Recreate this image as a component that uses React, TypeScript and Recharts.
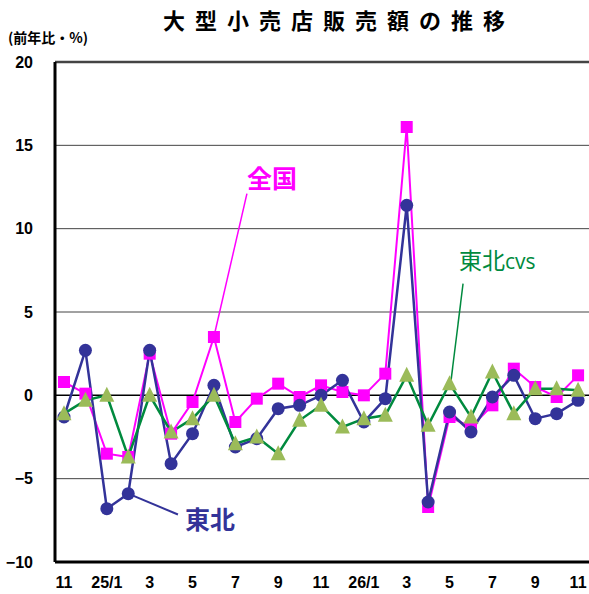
import React from "react";
import { LineChart, Line, XAxis, YAxis, CartesianGrid, ReferenceLine } from "recharts";

const months = ["11","12","25/1","2","3","4","5","6","7","8","9","10","11","12","26/1","2","3","4","5","6","7","8","9","10","11"];
const zenkoku = [0.8,0.1,-3.5,-3.7,2.5,-2.3,-0.4,3.5,-1.6,-0.2,0.7,-0.1,0.6,0.2,0.0,1.3,16.1,-6.7,-1.3,-1.9,-0.6,1.6,0.5,-0.1,1.2];
const tohoku = [-1.3,2.7,-6.8,-5.9,2.7,-4.1,-2.3,0.6,-3.1,-2.6,-0.8,-0.6,0.0,0.9,-1.6,-0.2,11.4,-6.4,-1.0,-2.2,-0.1,1.2,-1.4,-1.1,-0.3];
const tohokuCvs = [-1.1,-0.3,0.0,-3.7,0.0,-2.2,-1.4,0.0,-2.9,-2.5,-3.5,-1.5,-0.6,-1.9,-1.4,-1.2,1.2,-1.8,0.7,-1.3,1.4,-1.1,0.4,0.4,0.3];
const yTicks = [-10,-5,0,5,10,15,20];
const xTicks = [0,2,4,6,8,10,12,14,16,18,20,22,24];

const data = months.map((m, i) => ({ idx: i, month: m, zenkoku: zenkoku[i], tohoku: tohoku[i], cvs: tohokuCvs[i] }));

const SquareDot = (props: any) => {
  const { cx, cy } = props;
  if (cx == null || cy == null) return null;
  return <rect x={cx - 6} y={cy - 6} width={12} height={12} fill="#FF00FF" />;
};
const CircleDot = (props: any) => {
  const { cx, cy } = props;
  if (cx == null || cy == null) return null;
  return <circle cx={cx} cy={cy} r={6.5} fill="#333399" />;
};
const TriDot = (props: any) => {
  const { cx, cy } = props;
  if (cx == null || cy == null) return null;
  const s = 7.5;
  return <polygon points={`${cx},${cy - s - 1} ${cx - s},${cy + s - 1} ${cx + s},${cy + s - 1}`} fill="#9BBB59" />;
};

const tickStyle = { fontFamily: "'Liberation Sans', Arial, sans-serif", fontWeight: 700, fontSize: 16, fill: "#000" };

export default function App() {
  return (
    <div style={{ position: "absolute", left: 0, top: 0, width: 589, height: 594, background: "#fff", overflow: "hidden" }}>
      <div style={{ position: "absolute", left: 0, top: 3, width: 678, textAlign: "center", fontFamily: "'Noto Sans CJK JP', sans-serif", fontWeight: 700, fontSize: 22, letterSpacing: 10, color: "#000" }}>
        大型小売店販売額の推移
      </div>
      <div style={{ position: "absolute", left: 8, top: 27, fontFamily: "'Noto Sans CJK JP', sans-serif", fontWeight: 700, fontSize: 14, color: "#000" }}>
        (前年比・%)
      </div>
      <LineChart width={589} height={594} data={data} margin={{ top: 62, right: 0, bottom: 0, left: 0 }}>
        <CartesianGrid vertical={false} stroke="#444" strokeWidth={1} horizontalValues={[-5, 5, 10, 15]} />
        <XAxis
          dataKey="idx"
          type="number"
          domain={[-0.42, 24.51]}
          ticks={xTicks}
          tickFormatter={(v: number) => months[v]}
          height={32}
          tickSize={0}
          tickMargin={15}
          axisLine={{ stroke: "#000", strokeWidth: 3 }}
          tick={tickStyle}
          interval={0}
          allowDataOverflow
        />
        <YAxis
          type="number"
          domain={[-10, 20]}
          ticks={yTicks}
          width={55}
          tickSize={0}
          tickMargin={22}
          axisLine={{ stroke: "#000", strokeWidth: 3 }}
          tick={tickStyle}
          tickFormatter={(v: number) => (v < 0 ? "\u2212" + Math.abs(v) : String(v))}
          interval={0}
        />
        <ReferenceLine y={0} stroke="#000" strokeWidth={1.5} />
        <ReferenceLine y={20} stroke="#444" strokeWidth={2.5} />
        <ReferenceLine segment={[{ x: 7.05, y: 3.8 }, { x: 8.54, y: 12.1 }]} stroke="#FF00FF" strokeWidth={1.5} />
        <ReferenceLine segment={[{ x: 18.07, y: 0.9 }, { x: 18.63, y: 6.7 }]} stroke="#008A3E" strokeWidth={1.5} />
        <ReferenceLine segment={[{ x: 3, y: -5.9 }, { x: 5.32, y: -7.15 }]} stroke="#333399" strokeWidth={2} />
        <Line dataKey="zenkoku" stroke="#FF00FF" strokeWidth={2} dot={<SquareDot />} isAnimationActive={false} activeDot={false} />
        <Line dataKey="tohoku" stroke="#333399" strokeWidth={2.5} dot={<CircleDot />} isAnimationActive={false} activeDot={false} />
        <Line dataKey="cvs" stroke="#008A3E" strokeWidth={2.5} dot={<TriDot />} isAnimationActive={false} activeDot={false} />
      </LineChart>
      <div style={{ position: "absolute", left: 247, top: 162, fontFamily: "'Noto Sans CJK JP', sans-serif", fontWeight: 700, fontSize: 25, color: "#FF00FF", lineHeight: 1.2 }}>
        全国
      </div>
      <div style={{ position: "absolute", left: 459, top: 246, fontFamily: "'Noto Sans CJK JP', sans-serif", fontWeight: 400, fontSize: 23, color: "#008A3E", lineHeight: 1.2 }}>
        東北<span style={{ fontFamily: "'Open Sans', sans-serif", fontSize: 21 }}>cvs</span>
      </div>
      <div style={{ position: "absolute", left: 185, top: 503, fontFamily: "'Noto Sans CJK JP', sans-serif", fontWeight: 700, fontSize: 25, color: "#333399", lineHeight: 1.2 }}>
        東北
      </div>
    </div>
  );
}
